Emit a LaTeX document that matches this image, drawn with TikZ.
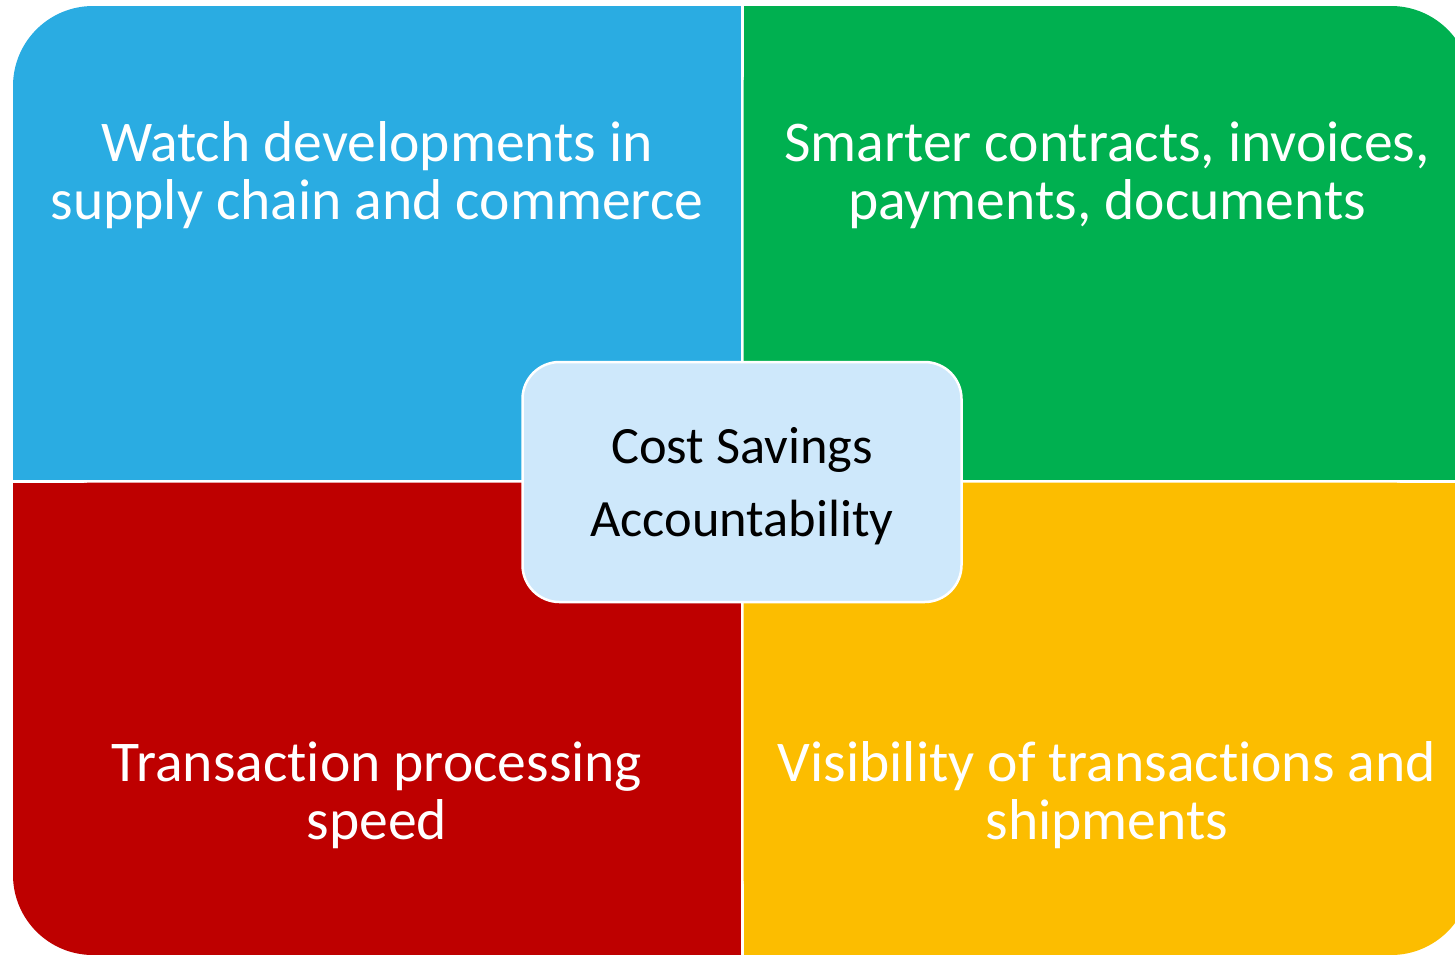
\documentclass[tikz,border=0pt]{standalone}
\usepackage{fontspec}
\setmainfont{Carlito}[Ligatures={NoCommon}]
\definecolor{qblue}{RGB}{42,172,226}
\definecolor{qgreen}{RGB}{0,176,80}
\definecolor{qred}{RGB}{190,0,0}
\definecolor{qyellow}{RGB}{252,189,0}
\definecolor{cbox}{RGB}{206,232,251}
\begin{document}
\begin{tikzpicture}[x=1pt,y=-1pt,
  quadtext/.style={text=white, align=center, inner sep=0pt, anchor=base,
    font=\fontsize{57.6}{58}\selectfont},
  centertext/.style={text=black, align=center, inner sep=0pt, anchor=base,
    font=\fontsize{52.4}{73}\selectfont}]
\useasboundingbox (0,0) rectangle (1455,954);
\begin{scope}
\clip (0,0) rectangle (1455,954);
% top left
\fill[qblue, rounded corners=80pt] (13,6) rectangle (740.5,479.5);
\fill[qblue] (100,6) rectangle (740.5,479.5);
\fill[qblue] (13,100) rectangle (740.5,479.5);
% top right
\fill[qgreen, rounded corners=80pt] (743.5,6) rectangle (1471,479.5);
\fill[qgreen] (743.5,6) rectangle (1380,479.5);
\fill[qgreen] (743.5,100) rectangle (1471,479.5);
% bottom left
\fill[qred, rounded corners=80pt] (13,482.5) rectangle (740.5,955);
\fill[qred] (13,482.5) rectangle (740.5,870);
\fill[qred] (100,482.5) rectangle (740.5,955);
% bottom right
\fill[qyellow, rounded corners=80pt] (743.5,482.5) rectangle (1471,955);
\fill[qyellow] (743.5,482.5) rectangle (1471,870);
\fill[qyellow] (743.5,482.5) rectangle (1380,955);
\end{scope}
\node[draw=white, line width=2.5pt, fill=cbox, rounded corners=37pt,
  minimum width=439pt, minimum height=240pt, inner sep=0pt] (box) at (742,482) {};
\node[quadtext] (tl) at (377,219) {Watch developments in\\supply chain and commerce};
\node[quadtext] (tr) at (1107,219) {Smarter contracts, invoices,\\payments, documents};
\node[quadtext] (bl) at (377,839) {Transaction processing\\speed};
\node[quadtext] (br) at (1107,839) {Visibility of transactions and\\shipments};
\node[centertext] (ct) at (742,536) {Cost Savings\\Accountability};
\end{tikzpicture}
\end{document}
